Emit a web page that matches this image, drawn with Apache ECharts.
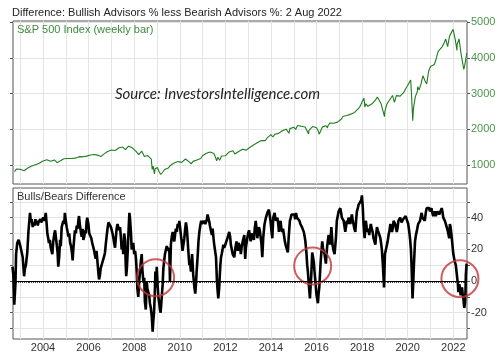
<!DOCTYPE html>
<html>
<head>
<meta charset="utf-8">
<script src="https://cdn.jsdelivr.net/npm/echarts@6/dist/echarts.min.js"></script>
<style>
html,body{margin:0;padding:0;background:#fff;}
#chart{width:500px;height:360px;}
</style>
</head>
<body>
<div id="chart"></div>
<script>
// ---------- DATA ----------
const titleText = 'Difference: Bullish Advisors % less Bearish Advisors %: 2 Aug 2022';
const topPanelLabel = 'S&P 500 Index (weekly bar)';
const bottomPanelLabel = 'Bulls/Bears Difference';
const sourceText = 'Source: InvestorsIntelligence.com';

// S&P 500 month-end closes, starting Sep 2002
const spxStartYear = 2002, spxStartMonth = 9;
const spxMonthly = [
  815, 886, 936, 880,
  856, 841, 848, 917, 964, 975, 990, 1008, 996, 1051, 1058, 1112,
  1131, 1145, 1126, 1107, 1121, 1141, 1102, 1104, 1115, 1130, 1174, 1212,
  1181, 1204, 1181, 1157, 1192, 1191, 1234, 1220, 1229, 1207, 1249, 1248,
  1280, 1281, 1295, 1311, 1270, 1270, 1277, 1304, 1336, 1378, 1401, 1418,
  1438, 1407, 1421, 1482, 1531, 1503, 1455, 1474, 1527, 1549, 1481, 1468,
  1379, 1331, 1323, 1386, 1400, 1280, 1267, 1283, 1166, 969, 896, 903,
  826, 735, 798, 873, 919, 919, 987, 1021, 1057, 1036, 1096, 1115,
  1074, 1104, 1169, 1187, 1089, 1031, 1102, 1049, 1141, 1183, 1181, 1258,
  1286, 1327, 1326, 1364, 1345, 1321, 1292, 1219, 1131, 1253, 1247, 1258,
  1312, 1366, 1408, 1398, 1310, 1362, 1379, 1407, 1441, 1412, 1416, 1426,
  1498, 1515, 1569, 1598, 1631, 1606, 1686, 1633, 1682, 1757, 1806, 1848,
  1783, 1859, 1872, 1884, 1924, 1960, 1931, 2003, 1972, 2018, 2068, 2059,
  1995, 2105, 2068, 2086, 2107, 2063, 2104, 1972, 1920, 2079, 2080, 2044,
  1940, 1932, 2060, 2065, 2097, 2099, 2174, 2171, 2168, 2126, 2199, 2239,
  2279, 2364, 2363, 2384, 2412, 2423, 2470, 2472, 2519, 2575, 2648, 2674,
  2824, 2714, 2641, 2648, 2705, 2718, 2816, 2902, 2914, 2712, 2760, 2507,
  2704, 2784, 2834, 2946, 2752, 2942, 2980, 2926, 2977, 3038, 3141, 3231,
  3226, 2954, 2585, 2912, 3044, 3100, 3271, 3500, 3363, 3270, 3622, 3756,
  3714, 3811, 3973, 4181, 4204, 4298, 4395, 4523, 4308, 4605, 4567, 4766,
  4516, 4374, 4530, 4132, 4132, 3785, 4130
];
// intra-month weekly extremes [decimal year, level]
const spxWeeklyYears = [2002.78, 2003.20, 2004.62, 2005.30, 2006.54, 2007.20, 2007.62, 2007.78, 2008.20, 2008.45, 2008.79, 2008.89, 2009.02, 2009.19, 2010.32, 2010.52, 2011.33, 2011.62, 2011.76, 2012.42, 2012.78, 2014.10, 2014.79, 2015.65, 2016.11, 2016.48, 2018.08, 2018.12, 2018.72, 2018.98, 2020.13, 2020.22, 2020.44, 2021.99, 2022.16, 2022.25, 2022.46, 2022.58];
const spxWeeklyValues = [776, 801, 1064, 1143, 1236, 1387, 1433, 1562, 1288, 1239, 876, 752, 932, 683, 1217, 1022, 1363, 1120, 1099, 1278, 1465, 1741, 1887, 1868, 1864, 2037, 2872, 2619, 2930, 2351, 3380, 2237, 3193, 4796, 4204, 4543, 3675, 4091];

// Bulls minus bears (%)
const bbYears = [
2002.66,2002.70,2002.74,2002.79,2002.82,2002.87,2002.93,2002.99,2003.05,2003.11,2003.17,2003.21,2003.25,2003.31,2003.36,2003.43,2003.47,2003.50,2003.55,2003.58,2003.63,2003.67,2003.70,2003.74,2003.77,2003.80,2003.85,2003.88,2003.92,2003.95,
2004.01,2004.07,2004.12,2004.16,2004.19,2004.23,2004.26,2004.30,2004.34,2004.38,2004.41,2004.45,2004.50,2004.53,2004.57,2004.60,2004.64,2004.67,2004.71,2004.75,2004.78,2004.82,2004.86,2004.89,2004.93,2004.96,
2005.00,2005.04,2005.08,2005.11,2005.15,2005.19,2005.23,2005.27,2005.30,2005.33,2005.37,2005.40,2005.44,2005.48,2005.52,2005.55,2005.58,2005.62,2005.67,2005.70,2005.74,2005.77,2005.81,2005.84,2005.88,2005.91,2005.94,2005.99,
2006.03,2006.08,2006.12,2006.16,2006.19,2006.23,2006.27,2006.31,2006.35,2006.39,2006.43,2006.46,2006.50,2006.53,2006.57,2006.61,2006.65,2006.69,2006.72,2006.76,2006.79,2006.83,2006.87,2006.91,2006.94,2006.98,
2007.01,2007.05,2007.09,2007.12,2007.16,2007.20,2007.23,2007.27,2007.30,2007.34,2007.38,2007.42,2007.45,2007.49,2007.52,2007.56,2007.60,2007.63,2007.65,2007.68,2007.72,2007.76,2007.79,2007.82,2007.86,2007.89,2007.93,2007.96,
2008.00,2008.04,2008.08,2008.11,2008.14,2008.18,2008.22,2008.25,2008.29,2008.33,2008.36,2008.40,2008.44,2008.47,2008.51,2008.55,2008.58,2008.62,2008.66,2008.69,2008.73,2008.77,2008.81,2008.84,2008.87,2008.90,2008.93,2008.96,2008.99,
2009.03,2009.06,2009.10,2009.13,2009.16,2009.19,2009.22,2009.25,2009.28,2009.31,2009.35,2009.39,2009.43,2009.47,2009.51,2009.54,2009.57,2009.61,2009.65,2009.69,2009.73,2009.76,2009.80,2009.83,2009.87,2009.91,2009.95,2009.98,
2010.02,2010.05,2010.09,2010.12,2010.16,2010.20,2010.23,2010.27,2010.31,2010.34,2010.38,2010.42,2010.45,2010.49,2010.54,2010.59,2010.64,2010.68,2010.71,2010.74,2010.79,2010.82,2010.86,2010.90,2010.94,2010.97,
2011.01,2011.05,2011.08,2011.12,2011.15,2011.19,2011.22,2011.27,2011.30,2011.32,2011.38,2011.41,2011.44,2011.48,2011.51,2011.55,2011.59,2011.63,2011.66,2011.69,2011.73,2011.75,2011.78,2011.81,2011.84,2011.88,2011.91,2011.95,2011.98,
2012.02,2012.05,2012.09,2012.13,2012.17,2012.21,2012.24,2012.28,2012.32,2012.36,2012.39,2012.44,2012.49,2012.52,2012.55,2012.58,2012.61,2012.65,2012.68,2012.72,2012.76,2012.80,2012.83,2012.87,2012.90,2012.96,
2013.00,2013.04,2013.08,2013.11,2013.15,2013.18,2013.22,2013.25,2013.29,2013.33,2013.37,2013.40,2013.44,2013.47,2013.51,2013.55,2013.58,2013.62,2013.66,2013.69,2013.72,2013.75,2013.78,2013.84,2013.88,2013.91,2013.95,2013.98,
2014.02,2014.06,2014.10,2014.16,2014.19,2014.22,2014.28,2014.32,2014.35,2014.39,2014.42,2014.46,2014.49,2014.53,2014.57,2014.61,2014.64,2014.70,2014.74,2014.78,2014.83,2014.87,2014.90,2014.97,
2015.03,2015.06,2015.10,2015.14,2015.18,2015.22,2015.25,2015.29,2015.32,2015.36,2015.40,2015.44,2015.48,2015.51,2015.56,2015.59,2015.62,2015.66,2015.71,2015.74,2015.77,2015.81,2015.85,2015.88,2015.91,2015.96,
2016.00,2016.06,2016.09,2016.12,2016.15,2016.18,2016.22,2016.25,2016.28,2016.31,2016.35,2016.41,2016.46,2016.50,2016.53,2016.57,2016.60,2016.65,2016.70,2016.75,2016.79,2016.85,2016.89,2016.93,2016.97,
2017.04,2017.08,2017.11,2017.15,2017.19,2017.22,2017.26,2017.30,2017.33,2017.37,2017.40,2017.44,2017.48,2017.51,2017.55,2017.58,2017.62,2017.66,2017.70,2017.74,2017.77,2017.81,2017.84,2017.88,2017.92,2017.96,2017.99,
2018.03,2018.06,2018.09,2018.11,2018.16,2018.20,2018.24,2018.28,2018.31,2018.35,2018.38,2018.42,2018.46,2018.50,2018.54,2018.58,2018.62,2018.65,2018.69,2018.72,2018.76,2018.80,2018.84,2018.87,2018.91,2018.94,2018.96,
2019.00,2019.03,2019.06,2019.09,2019.12,2019.16,2019.20,2019.24,2019.27,2019.31,2019.35,2019.38,2019.42,2019.45,2019.49,2019.52,2019.56,2019.59,2019.63,2019.67,2019.73,2019.80,2019.86,2019.91,2019.95,
2020.02,2020.06,2020.10,2020.14,2020.17,2020.21,2020.24,2020.27,2020.32,2020.36,2020.39,2020.43,2020.46,2020.50,2020.54,2020.58,2020.61,2020.65,2020.68,2020.72,2020.75,2020.79,2020.83,2020.87,2020.90,2020.94,2020.97,
2021.01,2021.04,2021.08,2021.12,2021.15,2021.19,2021.23,2021.27,2021.30,2021.34,2021.38,2021.41,2021.45,2021.49,2021.52,2021.56,2021.60,2021.63,2021.67,2021.71,2021.75,2021.78,2021.82,2021.85,2021.88,2021.92,2021.96,
2022.00,2022.04,2022.07,2022.11,2022.14,2022.17,2022.20,2022.22,2022.26,2022.29,2022.32,2022.35,2022.38,2022.41,2022.44,2022.48,2022.51,2022.53,2022.55,2022.58
];
const bbValues = [
9,4,-15,-2,17,24,26,23,24,15,3,8,10,18,31,43,37,39,34,37,35,39,36,38,35,37,36,39,37,38,
40,38,43,36,30,27,24,26,21,22,17,25,30,32,27,28,18,9,15,26,22,34,33,38,36,43,
38,34,31,28,30,24,22,18,13,20,27,32,30,35,33,38,41,35,30,28,33,26,28,32,30,37,40,36,
30,31,27,24,25,20,17,14,19,12,5,1,4,8,7,12,11,16,18,24,28,33,37,36,38,34,
33,30,27,24,21,28,33,36,35,32,34,27,20,24,17,30,26,10,3,8,20,34,43,39,30,20,22,24,
17,19,14,6,-5,-10,0,5,12,17,7,0,2,-13,-18,0,-5,-4,-9,-14,-17,-22,-32,-25,-20,-10,6,-4,9,
-3,-10,-14,-18,-20,-21,-8,-2,8,12,17,16,22,23,19,21,0,23,28,31,27,25,30,33,31,36,34,38,
33,29,24,19,23,27,32,37,33,27,18,10,12,6,17,4,-4,-8,-2,6,17,25,31,35,38,36,
35,38,38,36,35,39,42,43,37,35,31,29,33,27,23,19,15,0,-6,-11,-4,2,10,15,17,20,23,21,21,
24,25,27,29,31,28,23,20,17,16,15,21,25,22,19,24,23,21,17,22,25,27,29,14,21,27,
30,32,28,25,30,31,29,26,33,38,33,27,31,34,32,31,24,15,27,32,36,38,40,43,42,45,41,38,
32,27,40,43,40,38,40,36,31,35,38,33,31,33,29,25,23,20,18,28,38,40,42,43,
42,39,43,40,41,39,38,36,36,34,35,31,28,25,17,10,6,-2,-11,-3,4,18,19,12,6,-2,
-9,-14,-8,-4,4,12,20,25,21,19,17,11,21,26,29,25,23,34,23,19,17,27,38,41,44,
46,43,40,39,38,35,31,35,38,36,40,38,36,39,42,39,36,33,31,39,44,46,48,47,49,51,54,
46,36,30,27,38,34,31,33,29,33,36,33,31,27,25,23,30,34,32,31,29,27,23,19,10,2,-4,
17,19,21,23,25,29,32,36,33,31,34,38,37,36,33,31,34,38,39,40,37,39,38,41,40,
36,32,27,20,9,-11,-2,10,25,29,31,34,36,35,38,41,43,40,41,39,38,43,46,45,47,46,44,
45,46,43,41,42,44,41,42,44,45,42,43,41,46,44,40,39,38,36,35,32,31,27,36,34,29,23,
17,14,12,10,6,2,-2,-7,-2,-4,-9,-6,-4,-8,-11,-17,-14,-9,4,11
];

// Highlight circles [decimal year, value]
const circleYears = [2008.94, 2015.83, 2022.29];
const circleValues = [2.1, 9.5, 1.5];

// Axis ticks / labels
const yearTicks = [2003,2004,2005,2006,2007,2008,2009,2010,2011,2012,2013,2014,2015,2016,2017,2018,2019,2020,2021,2022];
const yearLabels = [2004,2006,2008,2010,2012,2014,2016,2018,2020,2022];
const spxTicks = [1000,2000,3000,4000,5000];
const bbTicks = [-30,-20,-10,0,10,20,30,40,50];
const bbLabels = [-20,0,20,40];

// ---------- BUILD ----------
const X_MIN = 2002.684, X_MAX = 2022.60;
const spxData = [];
spxMonthly.forEach((v, i) => {
  const m = spxStartMonth + i;
  spxData.push([spxStartYear + m / 12, v]);
});
spxWeeklyYears.forEach((y, i) => spxData.push([y, spxWeeklyValues[i]]));
spxData.sort((a, b) => a[0] - b[0]);

const bbData = bbYears.map((y, i) => [y, bbValues[i]]);
const circleData = circleYears.map((y, i) => [y, circleValues[i]]);

const monthTicks = [];
for (let y = 2002; y <= 2022; y++) for (let m = 0; m < 12; m++) {
  const v = y + m / 12;
  if (v > X_MIN && v < X_MAX) monthTicks.push(v);
}

const FONT = '"Liberation Sans", Arial, sans-serif';
const gridLine = { show: true, lineStyle: { color: '#e4e4e4', width: 1 } };
const green = '#1f7d1f';
const labelGreen = '#4c944c';
const plain = v => String(Math.round(v));

const chart = echarts.init(document.getElementById('chart'), null, { renderer: 'canvas' });
chart.setOption({
  animation: false,
  backgroundColor: '#fff',
  textStyle: { fontFamily: FONT },
  title: [
    { text: titleText, left: 12, top: 7, padding: 0,
      textStyle: { fontSize: 11, fontWeight: 'normal', color: '#222', fontFamily: FONT } },
    { text: topPanelLabel, left: 17, top: 24, padding: 0,
      textStyle: { fontSize: 11, fontWeight: 'normal', color: '#3f8a3f', fontFamily: FONT } },
    { text: bottomPanelLabel, left: 17, top: 191, padding: 0,
      textStyle: { fontSize: 11, fontWeight: 'normal', color: '#333', fontFamily: FONT } },
    { text: sourceText, left: 115, top: 87, padding: 0,
      textStyle: { fontSize: 15, fontWeight: 'normal', fontStyle: 'italic', color: '#222', fontFamily: 'Lato, "Open Sans", sans-serif' } }
  ],
  grid: [
    { left: 13, right: 33, top: 21, height: 163, show: true, borderColor: '#555', borderWidth: 1, backgroundColor: '#fff' },
    { left: 13, right: 33, top: 188, height: 151, show: true, borderColor: '#555', borderWidth: 1, backgroundColor: '#fff' }
  ],
  xAxis: [
    { gridIndex: 0, type: 'value', min: X_MIN, max: X_MAX,
      axisLine: { show: false }, axisTick: { show: false, customValues: yearTicks },
      axisLabel: { show: false }, splitLine: gridLine },
    { gridIndex: 1, type: 'value', min: X_MIN, max: X_MAX, position: 'bottom',
      axisLine: { show: false }, axisTick: { show: false, customValues: yearTicks },
      axisLabel: { show: true, customValues: yearLabels, formatter: plain,
        fontSize: 11, color: '#333', margin: 3, fontFamily: FONT },
      splitLine: gridLine },
    { gridIndex: 1, type: 'value', min: X_MIN, max: X_MAX, position: 'bottom',
      axisLine: { show: false },
      axisTick: { show: true, customValues: monthTicks, length: 2, lineStyle: { color: '#444' } },
      axisLabel: { show: false }, splitLine: { show: false } }
  ],
  yAxis: [
    { gridIndex: 0, type: 'value', position: 'right', min: 469, max: 5028,
      axisLine: { show: false },
      axisTick: { show: true, customValues: spxTicks, length: 3, lineStyle: { color: '#555' } },
      axisLabel: { show: true, customValues: spxTicks, formatter: plain, fontSize: 11, color: labelGreen, margin: 4, fontFamily: FONT },
      splitLine: gridLine },
    { gridIndex: 0, type: 'value', position: 'left', min: 469, max: 5028,
      axisLine: { show: false },
      axisTick: { show: true, customValues: spxTicks, length: 3, lineStyle: { color: '#555' } },
      axisLabel: { show: false }, splitLine: { show: false } },
    { gridIndex: 1, type: 'value', position: 'right', min: -36.6, max: 58.7,
      axisLine: { show: false },
      axisTick: { show: true, customValues: bbTicks, length: 3, lineStyle: { color: '#555' } },
      axisLabel: { show: true, customValues: bbLabels, formatter: plain, fontSize: 11, color: '#333', margin: 4, fontFamily: FONT },
      splitLine: gridLine },
    { gridIndex: 1, type: 'value', position: 'left', min: -36.6, max: 58.7,
      axisLine: { show: false },
      axisTick: { show: true, customValues: bbTicks, length: 3, lineStyle: { color: '#555' } },
      axisLabel: { show: false }, splitLine: { show: false } }
  ],
  series: [
    { name: 'S&P 500', type: 'line', xAxisIndex: 0, yAxisIndex: 0, data: spxData,
      showSymbol: false, symbol: 'none', lineStyle: { color: green, width: 1.1 }, z: 3 },
    { name: 'Bulls/Bears', type: 'line', xAxisIndex: 1, yAxisIndex: 2, data: bbData,
      showSymbol: false, symbol: 'none', lineStyle: { color: '#000', width: 2.6 }, z: 3,
      markLine: { silent: true, symbol: ['none', 'none'], label: { show: false },
        lineStyle: { color: '#000', width: 1, type: 'solid' }, data: [{ yAxis: 0 }] } },
    { name: 'Highlights', type: 'scatter', xAxisIndex: 1, yAxisIndex: 2, data: circleData,
      symbol: 'circle', symbolSize: 37, clip: false, z: 4, silent: true,
      itemStyle: { color: 'rgba(0,0,0,0)', borderColor: '#c3363a', borderWidth: 2 } }
  ]
});
</script>
</body>
</html>
